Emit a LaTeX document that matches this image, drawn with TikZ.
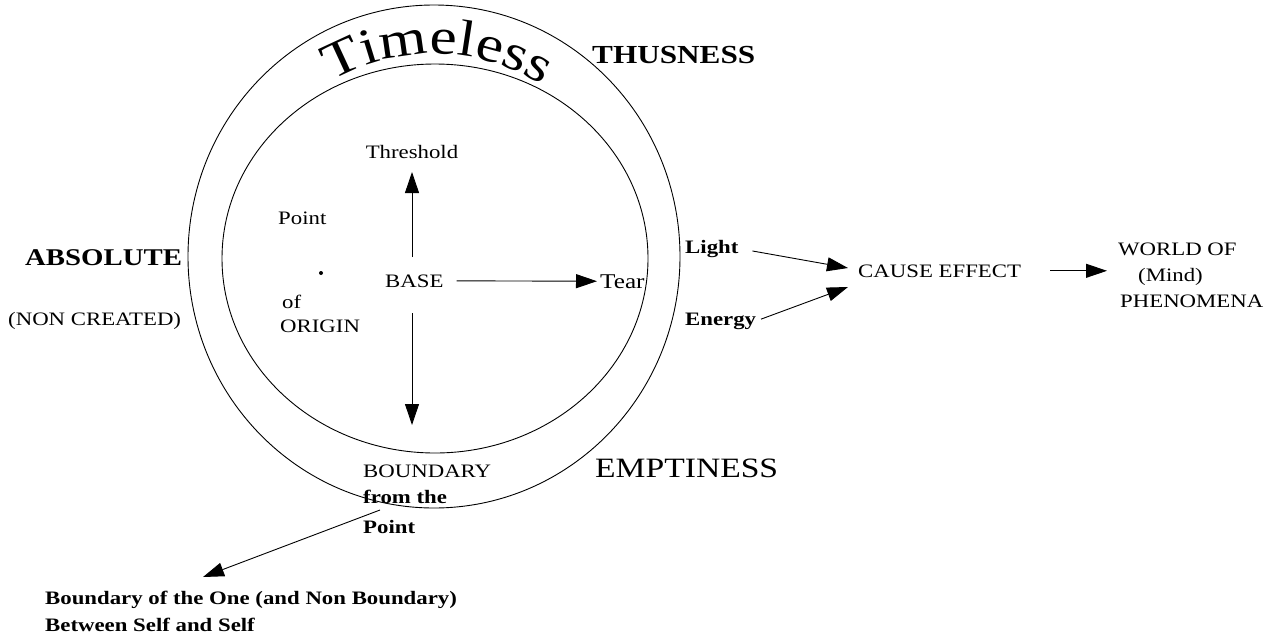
\documentclass[tikz,border=0pt]{standalone}
\usepackage{fontspec}
\setmainfont{Liberation Serif}[FakeStretch=1.2]
\usetikzlibrary{arrows.meta,decorations.text}
\begin{document}
\begin{tikzpicture}[x=1pt,y=1pt,
  lbl/.style={inner sep=0pt, anchor=base west, font=\fontsize{19}{25}\selectfont},
  blbl/.style={lbl, font=\fontsize{19}{25}\selectfont\bfseries},
  arr/.style={line width=0.9pt, -{Triangle[length=21pt,width=14pt]}},
  ring/.style={line width=0.9pt}]
\useasboundingbox (0,0) rectangle (1275,-638);
% rings
\draw[ring] (434,-256.5) ellipse [x radius=246, y radius=251.5];
\draw[ring] (435,-258.5) ellipse [x radius=213, y radius=194.5];
% curved title
\path[decorate, decoration={text along path, text align=center,
  text format delimiters={|}{|},
  text={|\fontsize{51}{51}\selectfont|Timeless}}]
  (434,-257) ++(150:203) arc[start angle=150, end angle=28, radius=203];
% inner labels
\node[lbl, anchor=base] (thr) at (412,-158) {Threshold};
\node[lbl] (point) at (278,-224) {Point};
\node[circle, fill, inner sep=0pt, minimum size=4pt] (dot) at (321,-273) {};
\node[lbl] (of) at (282,-308) {of};
\node[lbl] (origin) at (280,-332) {ORIGIN};
\node[lbl] (base) at (385,-287) {BASE};
\node[lbl, font=\fontsize{21}{25}\selectfont] (tear) at (600,-288) {Tear};
% outer labels
\node[lbl, font=\fontsize{24}{28}\selectfont\bfseries] (abs) at (25,-265) {ABSOLUTE};
\node[lbl] (nonc) at (8,-325) {(NON CREATED)};
\node[lbl, font=\fontsize{26}{30}\selectfont\bfseries] (thus) at (592,-63) {THUSNESS};
\node[lbl, font=\fontsize{28}{32}\selectfont] (empt) at (595,-477) {EMPTINESS};
\node[lbl] (bound) at (363,-477) {BOUNDARY};
\node[blbl] (fromthe) at (363,-503) {from the};
\node[blbl] (pointb) at (363,-533) {Point};
\node[blbl] (one) at (45,-604) {Boundary of the One (and Non Boundary)};
\node[blbl] (self) at (45,-631) {Between Self and Self};
% right side
\node[blbl] (light) at (685,-253) {Light};
\node[blbl] (energy) at (685,-325) {Energy};
\node[lbl] (cause) at (858,-277) {CAUSE EFFECT};
\node[lbl] (world) at (1118,-255) {WORLD OF};
\node[lbl] (mind) at (1138,-281) {(Mind)};
\node[lbl] (phen) at (1120,-307) {PHENOMENA};
% connector end points
\coordinate (u0) at (412,-257);
\coordinate (u1) at (412,-172);
\coordinate (d0) at (412,-313);
\coordinate (d1) at (412,-425);
\coordinate (t1) at (848,-268);
\coordinate (t2) at (848,-287);
\coordinate (b0) at (380,-510);
\coordinate (b1) at (203,-577);
% connectors
\draw[arr] (u0) -- (u1);
\draw[arr] (d0) -- (d1);
\draw[arr, shorten <=13pt, shorten >=3pt] (base.east) -- (tear.west);
\draw[arr, shorten <=14pt] (light.east) -- (t1);
\draw[arr, shorten <=5pt] (energy.east) -- (t2);
\draw[arr, shorten <=29pt, shorten >=11pt] (cause.east) -- (cause.east -| world.west);
\draw[arr] (b0) -- (b1);
\end{tikzpicture}
\end{document}
